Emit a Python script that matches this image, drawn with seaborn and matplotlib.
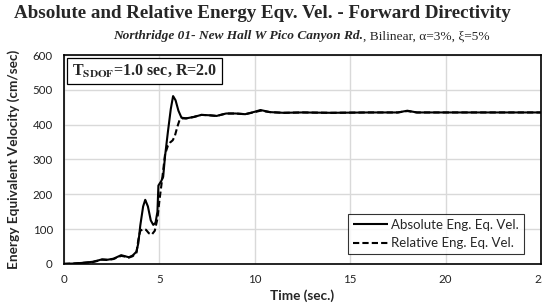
import numpy as np
import pandas as pd
import seaborn as sns
import matplotlib.pyplot as plt

# Values (time in sec, velocity in cm/sec)
t_abs = [0, 0.5, 1.0, 1.5, 1.8, 2.0, 2.3, 2.6, 3.0, 3.2, 3.4, 3.6, 3.8, 3.9, 4.0,
         4.15, 4.26, 4.4, 4.55, 4.68, 4.8, 4.9, 4.95, 5.1, 5.2, 5.3, 5.45, 5.6,
         5.72, 5.85, 6.0, 6.16, 6.4, 6.8, 7.2, 7.6, 8.0, 8.5, 9.0, 9.5, 10.0, 10.3,
         10.8, 11.5, 12.5, 14, 16, 17.5, 18.0, 18.5, 20, 22, 25]
v_abs = [0, 1, 3, 6, 10, 13, 12, 15, 25, 22, 19, 24, 35, 60, 110,
         165, 184, 165, 125, 112, 118, 150, 225, 238, 250, 310, 380, 445,
         482, 470, 440, 420, 418, 422, 428, 427, 425, 432, 432, 430, 437, 442,
         436, 434, 435, 434, 435, 435, 440, 435, 435, 435, 435]

t_rel = [0, 0.5, 1.0, 1.5, 1.8, 2.0, 2.3, 2.6, 3.0, 3.2, 3.4, 3.6, 3.8, 3.9, 4.0,
         4.15, 4.3, 4.45, 4.6, 4.76, 4.9, 5.0, 5.15, 5.3, 5.45, 5.55, 5.7, 5.81,
         5.95, 6.07, 6.2, 6.4, 6.8, 7.2, 7.6, 8.0, 8.5, 9.0, 9.5, 10.0, 10.3,
         10.8, 11.5, 12.5, 14, 16, 17.5, 18.0, 18.5, 20, 22, 25]
v_rel = [0, 1, 3, 5, 9, 12, 11, 14, 23, 21, 18, 22, 32, 70, 95,
         100, 98, 88, 84, 95, 130, 180, 245, 315, 340, 348, 355, 367,
         395, 415, 418, 418, 422, 428, 427, 425, 432, 432, 430, 436, 440,
         436, 434, 435, 434, 435, 435, 439, 435, 435, 435, 435]

labels = ["Absolute Eng. Eq. Vel.", "Relative Eng. Eq. Vel."]

df = pd.concat([
    pd.DataFrame({"t": t_abs, "v": v_abs, "series": labels[0]}),
    pd.DataFrame({"t": t_rel, "v": v_rel, "series": labels[1]}),
])

sns.set_theme(style="whitegrid")
plt.rcParams["font.family"] = ["Lato", "DejaVu Sans"]
plt.rcParams["mathtext.fontset"] = "stix"

fig = plt.figure(figsize=(5.42, 3.04), dpi=100)
ax = fig.add_axes([0.118, 0.132, 0.880, 0.687])

sns.lineplot(data=df, x="t", y="v", style="series", hue="series",
             palette=["black", "black"], dashes=[(1, 0), (3, 1.5)],
             linewidth=1.5, ax=ax, sort=False)

ax.set_xlim(0, 25)
ax.set_ylim(0, 600)
ax.set_xticks([0, 5, 10, 15, 20, 25])
ax.set_yticks(range(0, 601, 100))
ax.tick_params(labelsize=8.3, colors="#222222", length=0)
ax.tick_params(axis="x", pad=7)
ax.tick_params(axis="y", pad=8)
ax.grid(color="#d9d9d9", linewidth=1)
for s in ax.spines.values():
    s.set_color("black")
    s.set_linewidth(1.2)

ax.set_xlabel("Time (sec.)", fontsize=9.8, fontweight="bold")
ax.set_ylabel("Energy Equivalent Velocity (cm/sec)", fontsize=9.8, fontweight="bold")
ax.xaxis.set_label_coords(0.5, -0.124)
ax.yaxis.set_label_coords(-0.092, 0.5)

leg = ax.legend(loc="lower right", fontsize=9.5, frameon=True, fancybox=False,
                handlelength=2.65, handletextpad=0.25, borderpad=0.35,
                labelspacing=0.5, borderaxespad=0, bbox_to_anchor=(0.964, 0.048))
leg.get_frame().set_edgecolor("black")
leg.get_frame().set_linewidth(0.8)
for h in leg.get_lines():
    h.set_linewidth(1.5)

ax.text(0.017, 0.962, r"T$_{\mathbf{SDOF}}$=1.0 sec, R=2.0", transform=ax.transAxes,
        ha="left", va="top", fontsize=11.5, fontweight="bold", family="Liberation Serif",
        bbox=dict(boxstyle="square,pad=0.3", fc="white", ec="black", lw=0.9))

fig.text(0.484, 0.956, "Absolute and Relative Energy Eqv. Vel. - Forward Directivity",
         ha="center", va="center", fontsize=13.7, fontweight="bold", family="Liberation Serif")
t1 = fig.text(0.208, 0.88, "Northridge 01- New Hall W Pico Canyon Rd.", ha="left", va="center",
              fontsize=9.6, fontweight="bold", style="italic", family="Liberation Serif")
ax.annotate(", Bilinear, α=3%, ξ=5%", xy=(1, 0), xycoords=t1, ha="left", va="bottom",
            fontsize=9.6, family="Liberation Serif")

fig.savefig("out.png", dpi=100)
